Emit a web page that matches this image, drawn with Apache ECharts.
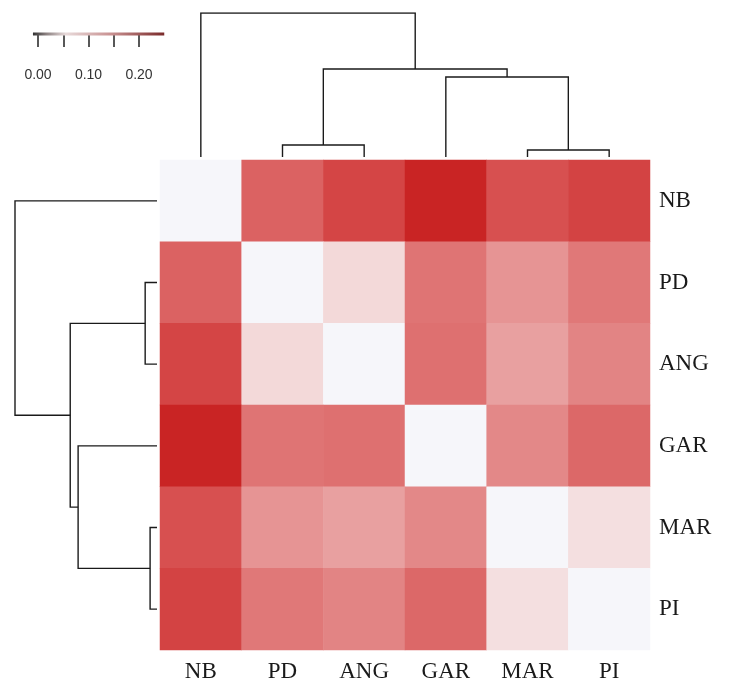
<!DOCTYPE html>
<html>
<head>
<meta charset="utf-8">
<script src="https://cdn.jsdelivr.net/npm/echarts@6/dist/echarts.min.js"></script>
<style>html,body{margin:0;padding:0;background:#fff;}#c{width:729px;height:690px;}</style>
</head>
<body>
<div id="c"></div>
<script>
// ---- data ----
const categories = ['NB', 'PD', 'ANG', 'GAR', 'MAR', 'PI'];
const rowNB  = [0.000, 0.166, 0.200, 0.245, 0.187, 0.203];
const rowPD  = [0.166, 0.000, 0.046, 0.146, 0.112, 0.142];
const rowANG = [0.200, 0.046, 0.000, 0.150, 0.100, 0.129];
const rowGAR = [0.245, 0.146, 0.150, 0.000, 0.125, 0.159];
const rowMAR = [0.187, 0.112, 0.100, 0.125, 0.000, 0.036];
const rowPI  = [0.203, 0.142, 0.129, 0.159, 0.036, 0.000];
const matrix = [rowNB, rowPD, rowANG, rowGAR, rowMAR, rowPI];

// dendrogram merges ('#k' = result of merge k, 1-based)
const mergeLeft   = ['MAR', 'PD', 'GAR', '#2', 'NB'];
const mergeRight  = ['PI', 'ANG', '#1', '#3', '#4'];
const mergeHeight = [0.7, 1.2, 8.0, 8.8, 14.4];

// colour key
const keyTicks = [0, 0.05, 0.10, 0.15, 0.20];
const keyRange = [-0.01, 0.25];
const colorStops = ['#f6f6fa', '#f3d6d6', '#e8a0a0', '#de7070', '#d44545', '#c82020'];

// ---- build ----
const heatData = [];
matrix.forEach((row, r) => row.forEach((v, c) => heatData.push([c, r, v])));

function nodeInfo(name, done) {
  if (name[0] === '#') return done[parseInt(name.slice(1), 10) - 1];
  return { pos: categories.indexOf(name), h: 0 };
}
const done = [];
const segs = [];
for (let i = 0; i < mergeHeight.length; i++) {
  const a = nodeInfo(mergeLeft[i], done), b = nodeInfo(mergeRight[i], done);
  const H = mergeHeight[i];
  segs.push([[a.pos, a.h], [a.pos, H], [b.pos, H], [b.pos, b.h]]);
  done.push({ pos: (a.pos + b.pos) / 2, h: H });
}
const hMax = Math.max.apply(null, mergeHeight);
const topLines = segs.map(s => ({ coords: s }));
const leftLines = segs.map(s => ({ coords: s.map(p => [p[1], p[0]]) }));

const serif = '"Liberation Serif", "DejaVu Serif", serif';
const chart = echarts.init(document.getElementById('c'));
chart.setOption({
  animation: false,
  backgroundColor: '#ffffff',
  grid: [
    { left: 160, top: 160, width: 490, height: 490 },
    { left: 160, top: 13, width: 490, height: 144 },
    { left: 15, top: 160, width: 142, height: 490 },
    { left: 38, top: 20, width: 101, height: 14 }
  ],
  xAxis: [
    { gridIndex: 0, type: 'category', data: categories, position: 'bottom',
      axisLine: { show: false }, axisTick: { show: false }, splitLine: { show: false },
      axisLabel: { fontFamily: serif, fontSize: 23, color: '#1a1a1a', margin: 10 } },
    { gridIndex: 1, type: 'value', min: -0.5, max: 5.5, show: false },
    { gridIndex: 2, type: 'value', min: 0, max: hMax, inverse: true, show: false },
    { gridIndex: 3, type: 'value', min: 0, max: 0.2, interval: 0.05,
      axisLine: { show: false }, splitLine: { show: false },
      axisTick: { show: true, length: 13, lineStyle: { color: '#222', width: 1.5 } },
      axisLabel: { fontFamily: '"Liberation Sans", Arial, sans-serif', fontSize: 14, color: '#333', margin: 34,
        formatter: v => (Math.abs(v / 0.1 - Math.round(v / 0.1)) < 1e-6 ? v.toFixed(2) : '') } }
  ],
  yAxis: [
    { gridIndex: 0, type: 'category', data: categories, inverse: true, position: 'right',
      axisLine: { show: false }, axisTick: { show: false }, splitLine: { show: false },
      axisLabel: { fontFamily: serif, fontSize: 23, color: '#1a1a1a', margin: 9 } },
    { gridIndex: 1, type: 'value', min: 0, max: hMax, show: false },
    { gridIndex: 2, type: 'value', min: -0.5, max: 5.5, inverse: true, show: false },
    { gridIndex: 3, type: 'value', min: 0, max: 1, show: false }
  ],
  visualMap: {
    type: 'continuous', show: false, min: 0, max: 0.25, seriesIndex: 0,
    inRange: { color: colorStops }
  },
  series: [
    { type: 'heatmap', xAxisIndex: 0, yAxisIndex: 0, data: heatData,
      itemStyle: { borderWidth: 0 }, emphasis: { disabled: true } },
    { type: 'lines', coordinateSystem: 'cartesian2d', xAxisIndex: 1, yAxisIndex: 1,
      polyline: true, silent: true, data: topLines,
      lineStyle: { color: '#1a1a1a', width: 1.4, opacity: 1 } },
    { type: 'lines', coordinateSystem: 'cartesian2d', xAxisIndex: 2, yAxisIndex: 2,
      polyline: true, silent: true, data: leftLines,
      lineStyle: { color: '#1a1a1a', width: 1.4, opacity: 1 } },
    { type: 'custom', xAxisIndex: 3, yAxisIndex: 3, clip: false, silent: true,
      data: [keyRange],
      renderItem: function (params, api) {
        const p1 = api.coord([api.value(0), 0]);
        const p2 = api.coord([api.value(1), 0]);
        return {
          type: 'rect',
          shape: { x: p1[0], y: p1[1] - 1.5, width: p2[0] - p1[0], height: 3 },
          style: {
            fill: new echarts.graphic.LinearGradient(0, 0, 1, 0, [
              { offset: 0, color: '#333333' },
              { offset: 0.1, color: '#8a8080' },
              { offset: 0.25, color: '#e8dada' },
              { offset: 0.6, color: '#c89090' },
              { offset: 1, color: '#7a2a2a' }
            ])
          }
        };
      }
    }
  ]
});
</script>
</body>
</html>
